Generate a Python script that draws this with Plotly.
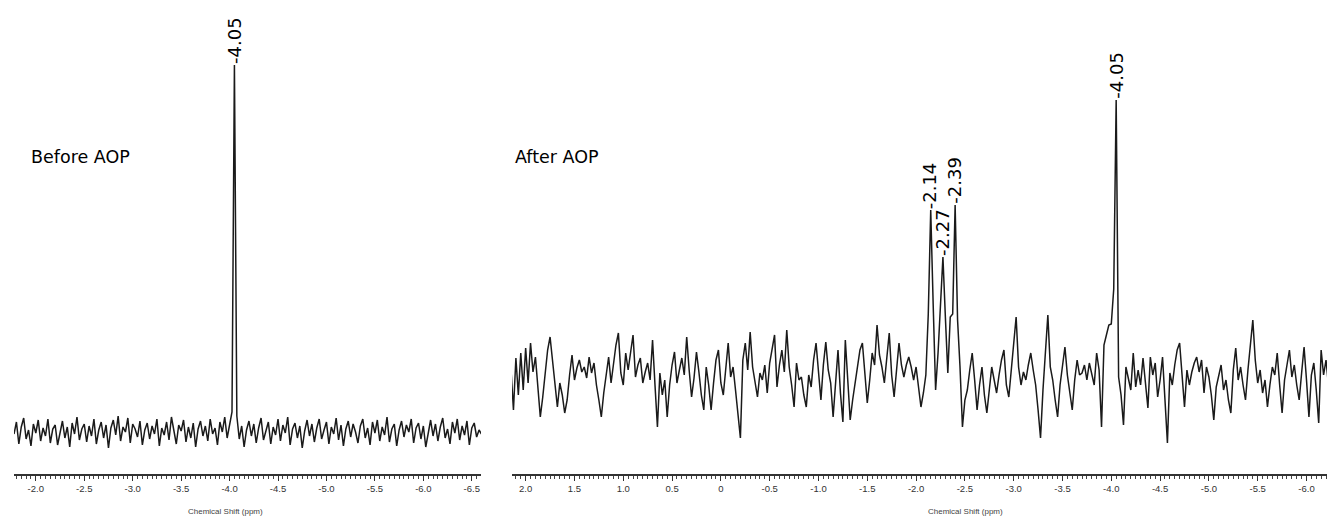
import numpy as np
import plotly.graph_objects as go

# ---------------- data ----------------
# 31P NMR spectra, intensities in arbitrary units, sampled every 0.025 ppm
before_start_ppm = -1.775
after_start_ppm = 2.15
ppm_step = 0.025

before_intensity = [
    40, 52, 30, 47, 56, 35, 44, 28, 50, 41, 54, 33, 46, 38, 55, 31, 45, 49, 29, 43,
    53, 36, 47, 27, 51, 40, 57, 34, 45, 50, 32, 48, 38, 55, 30, 44, 52, 36, 49, 26,
    46, 54, 39, 58, 33, 47, 42, 56, 31, 50, 45, 37, 53, 29, 44, 51, 35, 48, 40, 55,
    28, 46, 39, 52, 34, 57, 41, 30, 49, 43, 54, 32, 47, 36, 51, 27, 45, 53, 38, 48,
    33, 55, 40, 46, 29, 52, 42, 57, 36, 50, 62, 409, 58,
    35, 48, 27, 44, 53, 38, 50, 31, 46, 56, 34, 42, 52, 30, 47, 39, 55, 33, 49, 41,
    57, 29, 45, 51, 36, 48, 26, 43, 54, 38, 50, 32, 46, 55, 35, 44, 52, 30, 47, 40,
    56, 34, 49, 28, 45, 53, 37, 50, 42, 31, 48, 55, 36, 46, 29, 52, 41, 54, 33, 47,
    39, 57, 32, 45, 50, 28, 44, 53, 37, 49, 42, 55, 31, 46, 51, 35, 48, 27, 43, 54,
    38, 50, 33, 47, 56, 36, 45, 30, 52, 41, 55, 34, 48, 39, 53, 29, 46, 51, 37, 44, 40,
]

after_intensity = [
    104, 64, 116, 79, 121, 84, 126, 91, 131, 102, 117, 91, 57, 77, 99, 124, 137, 112, 89, 67,
    91, 79, 61, 74, 99, 119, 94, 106, 114, 102, 107, 96, 117, 101, 111, 89, 74, 57, 81, 99,
    117, 91, 109, 129, 141, 101, 89, 121, 104, 124, 139, 97, 109, 116, 91, 102, 111, 94, 134, 89,
    47, 101, 79, 94, 57, 89, 109, 122, 91, 104, 116, 99, 137, 104, 77, 96, 122, 102, 79, 64,
    107, 89, 64, 91, 114, 124, 91, 79, 109, 131, 97, 107, 84, 59, 36, 114, 131, 104, 142, 107,
    94, 77, 101, 94, 109, 81, 111, 124, 139, 87, 109, 124, 102, 144, 107, 89, 67, 111, 94, 97,
    79, 67, 99, 87, 114, 131, 99, 74, 109, 132, 104, 91, 57, 94, 124, 81, 52, 134, 89, 54,
    74, 91, 109, 124, 131, 99, 71, 94, 121, 109, 149, 119, 107, 91, 114, 141, 99, 77, 104, 131,
    109, 97, 109, 117, 107, 94, 107, 89, 67, 81, 99, 160, 264, 170, 84, 121, 165, 217, 157, 101,
    157, 160, 269, 154, 107, 47, 74, 84, 104, 121, 94, 64, 89, 107, 79, 61, 84, 107, 94, 81,
    99, 114, 124, 89, 77, 104, 131, 157, 107, 89, 102, 94, 109, 121, 104, 89, 64, 36, 84, 121,
    159, 107, 94, 74, 57, 89, 107, 127, 99, 81, 64, 94, 114, 99, 101, 109, 94, 111, 101, 89,
    121, 104, 47, 129, 139, 149, 150, 185, 374, 97, 79, 49, 107, 94, 84, 121, 87, 104, 89, 116,
    94, 66, 117, 99, 111, 77, 94, 117, 74, 31, 101, 89, 109, 124, 131, 94, 67, 104, 89, 102,
    111, 117, 102, 114, 81, 107, 97, 79, 54, 87, 99, 109, 84, 94, 74, 61, 104, 126, 94, 107,
    89, 74, 104, 129, 154, 114, 91, 104, 81, 94, 67, 89, 107, 99, 121, 89, 61, 94, 109, 124,
    97, 109, 89, 74, 101, 127, 94, 57, 99, 111, 84, 51, 124, 99, 114, 89,
]

before_ticks = [-2.0, -2.5, -3.0, -3.5, -4.0, -4.5, -5.0, -5.5, -6.0, -6.5]
before_ticktext = ["-2.0", "-2.5", "-3.0", "-3.5", "-4.0", "-4.5", "-5.0", "-5.5", "-6.0", "-6.5"]
after_ticks = [2.0, 1.5, 1.0, 0.5, 0.0, -0.5, -1.0, -1.5, -2.0, -2.5, -3.0, -3.5, -4.0, -4.5, -5.0, -5.5, -6.0]
after_ticktext = ["2.0", "1.5", "1.0", "0.5", "0", "-0.5", "-1.0", "-1.5", "-2.0", "-2.5", "-3.0",
                  "-3.5", "-4.0", "-4.5", "-5.0", "-5.5", "-6.0"]

before_peaks = [-4.05]
before_peak_heights = [409]
after_peaks = [-2.14, -2.27, -2.39, -4.05]
after_peak_heights = [264, 217, 269, 374]

panel_titles = ["Before AOP", "After AOP"]
axis_title = "Chemical Shift (ppm)"

# ---------------- figure ----------------
before_ppm = before_start_ppm - ppm_step * np.arange(len(before_intensity))
after_ppm = after_start_ppm - ppm_step * np.arange(len(after_intensity))

W, H = 1327, 517
ydom = [1 - 474 / H, 1 - 10 / H]
line_col = "#1a1a1a"

fig = go.Figure()
fig.add_trace(go.Scatter(x=before_ppm, y=before_intensity, mode="lines",
                         line=dict(color=line_col, width=1.5), xaxis="x", yaxis="y",
                         hoverinfo="skip", showlegend=False))
fig.add_trace(go.Scatter(x=after_ppm, y=after_intensity, mode="lines",
                         line=dict(color=line_col, width=1.5), xaxis="x2", yaxis="y2",
                         hoverinfo="skip", showlegend=False))

axis_common = dict(
    showline=True, linecolor="#333", linewidth=2, showgrid=False, zeroline=False,
    ticks="outside", ticklen=5, tickwidth=1.2, tickcolor="#333",
    tickfont=dict(family="Liberation Sans, Arial, sans-serif", size=9.5, color="#333"),
    tickmode="array",
    minor=dict(ticks="outside", ticklen=3, tickcolor="#444", tickwidth=1, tick0=0, dtick=0.05,
               showgrid=False),
)

fig.update_layout(
    width=W, height=H,
    margin=dict(l=0, r=0, t=0, b=0),
    paper_bgcolor="white", plot_bgcolor="white",
    xaxis=dict(domain=[14 / W, 481 / W], range=[-1.775, -6.595], anchor="y",
               tickvals=before_ticks, ticktext=before_ticktext, **axis_common),
    yaxis=dict(domain=ydom, range=[0, 464], visible=False, anchor="x"),
    xaxis2=dict(domain=[512 / W, 1.0], range=[2.14, -6.21], anchor="y2",
                tickvals=after_ticks, ticktext=after_ticktext, **axis_common),
    yaxis2=dict(domain=ydom, range=[0, 464], visible=False, anchor="x2"),
)

ann = []
label_font = dict(family="DejaVu Sans, Verdana, sans-serif", size=18, color="black")
for p, h in zip(before_peaks, before_peak_heights):
    ann.append(dict(x=p, y=h, xref="x", yref="y", text=f"{p:.2f}",
                    textangle=-90, showarrow=False, xanchor="center", yanchor="bottom",
                    font=label_font, borderpad=0))
for p, h in zip(after_peaks, after_peak_heights):
    ann.append(dict(x=p, y=h, xref="x2", yref="y2", text=f"{p:.2f}",
                    textangle=-90, showarrow=False, xanchor="center", yanchor="bottom",
                    font=label_font, borderpad=0))

title_font = dict(family="DejaVu Sans, Verdana, sans-serif", size=17.5, color="black")
ann.append(dict(x=29 / W, y=1 - 157 / H, xref="paper", yref="paper", text=panel_titles[0],
                showarrow=False, xanchor="left", yanchor="middle", font=title_font))
ann.append(dict(x=513 / W, y=1 - 157 / H, xref="paper", yref="paper", text=panel_titles[1],
                showarrow=False, xanchor="left", yanchor="middle", font=title_font))

small_font = dict(family="Liberation Sans, Arial, sans-serif", size=8, color="#444")
ann.append(dict(x=225 / W, y=1 - 511 / H, xref="paper", yref="paper", text=axis_title,
                showarrow=False, xanchor="center", yanchor="middle", font=small_font))
ann.append(dict(x=965 / W, y=1 - 511 / H, xref="paper", yref="paper", text=axis_title,
                showarrow=False, xanchor="center", yanchor="middle", font=small_font))
fig.update_layout(annotations=ann)

fig.write_html("out.html", config={"displayModeBar": False},
               post_script="document.body.style.margin='0';")
